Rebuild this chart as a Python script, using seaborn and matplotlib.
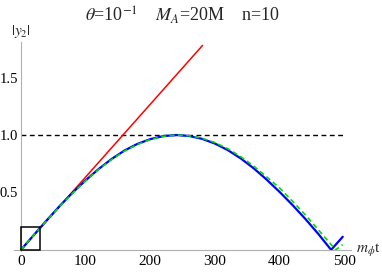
import numpy as np
import pandas as pd
import matplotlib
matplotlib.use("Agg")
import matplotlib.pyplot as plt
import seaborn as sns
from matplotlib.patches import Rectangle
from matplotlib.ticker import MultipleLocator

# ---- data ----
t_blue = [0, 20, 40, 60, 80, 100, 120, 140, 160, 180, 200, 220, 240, 260, 280,
          300, 320, 340, 360, 380, 400, 420, 440, 460, 480, 498]
y_blue = [0.0, 0.130, 0.258, 0.382, 0.499, 0.605, 0.703, 0.790, 0.864, 0.922,
          0.964, 0.990, 1.000, 0.992, 0.967, 0.926, 0.869, 0.797, 0.711, 0.613,
          0.506, 0.392, 0.270, 0.140, 0.0, 0.114]
t_green = [0, 20, 40, 60, 80, 100, 120, 140, 160, 180, 200, 220, 240, 260, 280,
           300, 320, 340, 360, 380, 400, 420, 440, 460, 480, 487, 498]
y_green = [0.0, 0.129, 0.255, 0.378, 0.493, 0.601, 0.699, 0.785, 0.859, 0.917,
           0.961, 0.988, 1.000, 0.994, 0.972, 0.935, 0.881, 0.812, 0.731, 0.637,
           0.540, 0.425, 0.305, 0.176, 0.046, 0.0, 0.045]
t_red = [0, 281]
y_red = [0.0, 1.78]
t_ref = [0, 500]
y_ref = [1.0, 1.0]
box_w, box_h = 30, 0.2

sns.set_style("white")
plt.rcParams['font.family'] = ['Liberation Serif', 'DejaVu Serif']
plt.rcParams['mathtext.fontset'] = 'stix'

fig = plt.figure(figsize=(3.82, 2.76), dpi=100)
ax = fig.add_axes([14.5 / 382, 25 / 276, 336 / 382, 209 / 276])

df_b = pd.DataFrame({"t": t_blue, "y": y_blue})
df_g = pd.DataFrame({"t": t_green, "y": y_green})
df_r = pd.DataFrame({"t": t_red, "y": y_red})
df_k = pd.DataFrame({"t": t_ref, "y": y_ref})

sns.lineplot(data=df_k, x="t", y="y", ax=ax, color="black", lw=1.0,
             linestyle=(0, (3.5, 2.5)), sort=False, estimator=None)
sns.lineplot(data=df_r, x="t", y="y", ax=ax, color="#ff0000", lw=1.1,
             sort=False, estimator=None)
sns.lineplot(data=df_b, x="t", y="y", ax=ax, color="#0000ff", lw=1.6,
             sort=False, estimator=None)
sns.lineplot(data=df_g, x="t", y="y", ax=ax, color="#00dd00", lw=1.2,
             linestyle=(0, (3, 2)), sort=False, estimator=None)
for ln in ax.get_lines():
    ln.set_clip_on(False)

ax.add_patch(Rectangle((0, 0), box_w, box_h, fill=False, edgecolor="black",
                       lw=1.1, zorder=5))

ax.set_xlim(-10, 510)
ax.set_ylim(-0.01, 1.81)
ax.set_xlabel("")
ax.set_ylabel("")

for s in ["top", "right"]:
    ax.spines[s].set_visible(False)
ax.spines["left"].set_position(("data", 0))
ax.spines["bottom"].set_position(("data", 0))
for s in ["left", "bottom"]:
    ax.spines[s].set_color("#b0b0b0")
    ax.spines[s].set_linewidth(0.8)

ax.xaxis.set_major_locator(MultipleLocator(100))
ax.xaxis.set_minor_locator(MultipleLocator(20))
ax.yaxis.set_major_locator(MultipleLocator(0.5))
ax.yaxis.set_minor_locator(MultipleLocator(0.1))
ax.tick_params(which="both", direction="in", color="#b0b0b0", width=0.7,
               labelcolor="black")
ax.tick_params(which="major", length=4)
ax.tick_params(which="minor", length=2)
ax.tick_params(axis="x", labelsize=11, pad=4)
ax.tick_params(axis="y", labelsize=10.5, pad=2)
ax.set_yticks([0.5, 1.0, 1.5])
ax.set_yticklabels(["0.5", "1.0", "1.5"])

fig.text(182 / 382, 1 - 21 / 276,
         r"$\theta$=10$^{-1}$    $M_A$=20M    n=10",
         ha="center", va="baseline", fontsize=13)
fig.text(21 / 382, 1 - 32 / 276, r"$|y_2|$", ha="center", va="center",
         fontsize=11)
fig.text(356 / 382, 1 - 250 / 276, r"$m_\phi$t", ha="left", va="center",
         fontsize=11)

fig.savefig("out.png", dpi=100, facecolor="white")
